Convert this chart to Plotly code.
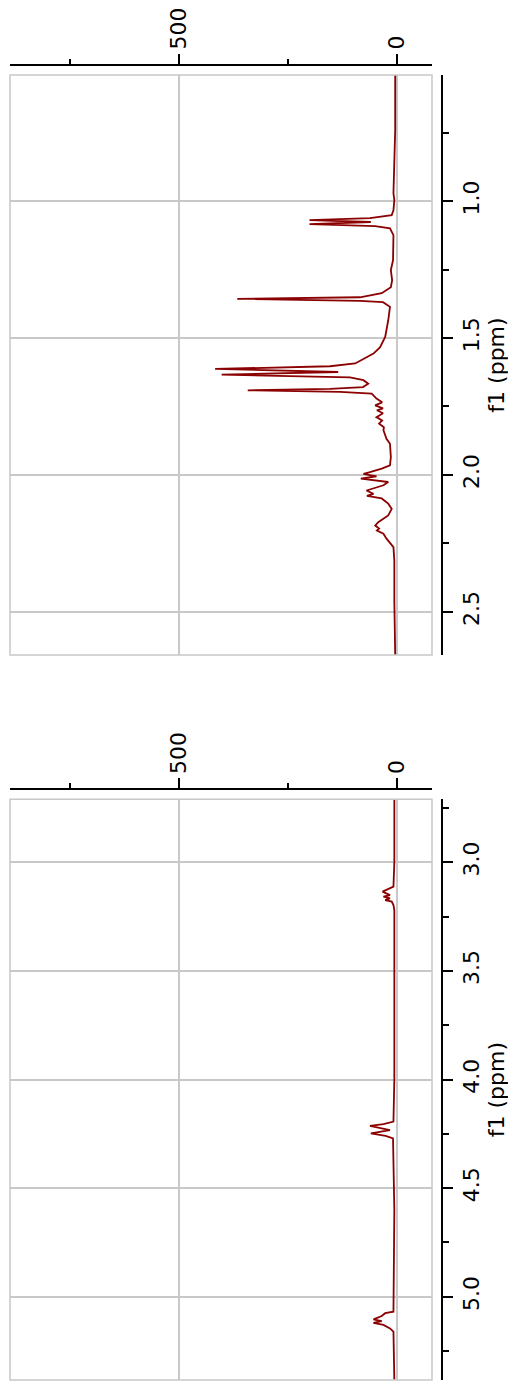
import plotly.graph_objects as go

# ---------------- data ----------------
# Panel 1 : 0.54 - 2.66 ppm
ppm1 = [0.539, 0.740, 0.971, 0.996, 1.033, 1.051, 1.062, 1.069, 1.076, 1.084,
        1.091, 1.099, 1.124, 1.216, 1.252, 1.289, 1.314, 1.336, 1.351, 1.357,
        1.364, 1.369, 1.386, 1.435, 1.496, 1.534, 1.557, 1.581, 1.593, 1.603,
        1.613, 1.624, 1.634, 1.644, 1.654, 1.667, 1.679, 1.686, 1.691, 1.697,
        1.703, 1.721, 1.735, 1.746, 1.757, 1.764, 1.775, 1.789, 1.801, 1.813,
        1.826, 1.837, 1.868, 1.886, 1.935, 1.965, 1.977, 1.990, 1.996, 2.005,
        2.014, 2.026, 2.038, 2.057, 2.069, 2.077, 2.086, 2.105, 2.124, 2.148,
        2.173, 2.185, 2.196, 2.203, 2.215, 2.233, 2.264, 2.313, 2.459, 2.660]
int1 = [3, 3, 7, 5, 7, 11, 61, 200, 59, 200,
        49, 15, 7, 8, 13, 10, 13, 34, 84, 366,
        84, 31, 15, 19, 26, 38, 53, 79, 95, 153,
        417, 134, 402, 107, 76, 65, 77, 153, 342, 130,
        57, 46, 33, 49, 31, 45, 31, 46, 33, 40,
        29, 30, 23, 15, 13, 15, 34, 61, 76, 46,
        82, 19, 30, 69, 53, 68, 34, 19, 11, 19,
        42, 49, 40, 45, 30, 23, 7, 5, 5, 3]

# Panel 2 : 2.71 - 5.38 ppm
ppm2 = [2.710, 3.000, 3.112, 3.124, 3.135, 3.151, 3.158, 3.166, 3.174, 3.181,
        3.197, 3.220, 3.600, 4.000, 4.194, 4.205, 4.214, 4.233, 4.248, 4.260,
        4.271, 4.600, 5.069, 5.076, 5.089, 5.104, 5.112, 5.120, 5.130, 5.146,
        5.161, 5.383]
int2 = [5, 5, 7, 19, 32, 15, 30, 15, 26, 11,
        7, 5, 5, 5, 7, 30, 61, 15, 59, 25,
        8, 5, 7, 26, 34, 53, 34, 53, 30, 15,
        7, 5]

int_ticks = [0, 500]
int_minor = [250, 750]
ppm1_ticks = [1.0, 1.5, 2.0, 2.5]
ppm1_minor = [0.75, 1.25, 1.75, 2.25]
ppm2_ticks = [3.0, 3.5, 4.0, 4.5, 5.0]
ppm2_minor = [2.75, 3.25, 3.75, 4.25, 4.75, 5.25]
int_range = [888.5, -81.6]
ppm1_range = [2.658, 0.539]
ppm2_range = [5.3835, 2.710]

# ---------------- figure ----------------
OFF = 8  # page body margin
W, H = 516 - OFF, 1387 - OFF
LINE = "#8b0000"
GRID = "#c8c8c8"
FONT = dict(family="DejaVu Sans", size=22, color="black")


def px_x(p):
    return (p - OFF) / W


def px_y(p):
    return 1 - (p - OFF) / H


fig = go.Figure()
fig.add_trace(go.Scatter(x=int1, y=ppm1, mode="lines", line=dict(color=LINE, width=1.8),
                         xaxis="x", yaxis="y", showlegend=False))
fig.add_trace(go.Scatter(x=int2, y=ppm2, mode="lines", line=dict(color=LINE, width=1.8),
                         xaxis="x2", yaxis="y2", showlegend=False))

xdom = [px_x(10), px_x(432)]
dom1 = [px_y(655), px_y(75)]
dom2 = [px_y(1380), px_y(799.3)]


def xax(pos):
    return dict(domain=xdom, range=int_range, side="top", anchor="free", position=pos,
                automargin=False,
                showline=True, linecolor="black", linewidth=2, mirror=False,
                ticks="outside", ticklen=10, tickwidth=2, tickcolor="black",
                tickmode="array", tickvals=int_ticks, tickangle=-90,
                tickfont=FONT, showgrid=True, gridcolor=GRID, gridwidth=1.5,
                zeroline=False,
                minor=dict(tickmode="array", tickvals=int_minor, ticks="outside",
                           ticklen=5.5, tickwidth=2, tickcolor="black", showgrid=False))


def yax(rng, dom, tv, mv):
    return dict(domain=dom, range=rng, side="right", anchor="free", position=px_x(442),
                automargin=False,
                showline=True, linecolor="black", linewidth=2,
                ticks="outside", ticklen=10, tickwidth=2, tickcolor="black",
                tickmode="array", tickvals=tv, tickformat=".1f", tickangle=-90,
                tickfont=FONT, showgrid=True, gridcolor=GRID, gridwidth=1.5,
                zeroline=False,
                title=dict(text="f1 (ppm)", font=FONT, standoff=2),
                minor=dict(tickmode="array", tickvals=mv, ticks="outside",
                           ticklen=5.5, tickwidth=2, tickcolor="black", showgrid=False))


fig.update_layout(
    width=W, height=H, margin=dict(l=0, r=0, t=0, b=0, autoexpand=False),
    paper_bgcolor="white", plot_bgcolor="white",
    font=FONT,
    xaxis=xax(px_y(65)), yaxis=yax(ppm1_range, dom1, ppm1_ticks, ppm1_minor),
    xaxis2=xax(px_y(789.3)), yaxis2=yax(ppm2_range, dom2, ppm2_ticks, ppm2_minor),
    shapes=[
        dict(type="rect", xref="x domain", yref="y domain", x0=0, x1=1, y0=0, y1=1,
             line=dict(color=GRID, width=1.5), layer="above"),
        dict(type="rect", xref="x2 domain", yref="y2 domain", x0=0, x1=1, y0=0, y1=1,
             line=dict(color=GRID, width=1.5), layer="above"),
    ],
)

fig.write_html("out.html")
